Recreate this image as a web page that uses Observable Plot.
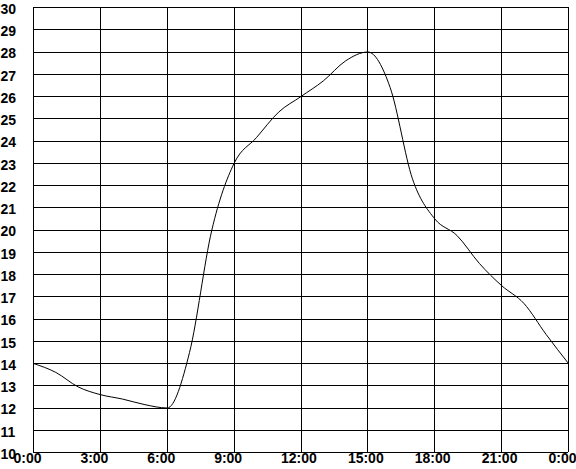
<!DOCTYPE html>
<html>
<head>
<meta charset="utf-8">
<script src="https://cdn.jsdelivr.net/npm/d3@7"></script>
<script src="https://cdn.jsdelivr.net/npm/@observablehq/plot@0.6"></script>
<style>
  html, body { margin: 0; padding: 0; background: #fff; }
</style>
</head>
<body>
<div id="chart"></div>
<script>
const hours = [0, 1, 2, 3, 4, 5, 6, 7, 8, 9, 10, 11, 12, 13, 14, 15, 16, 17, 18, 19, 20, 21, 22, 23, 24];
const temps = [14.0, 13.6, 12.95, 12.6, 12.4, 12.15, 12.0, 14.5, 20.0, 23.0, 24.15, 25.3, 26.0, 26.7, 27.6, 28.0, 26.4, 22.3, 20.5, 19.75, 18.5, 17.5, 16.7, 15.3, 14.0];
const xTicks = [0, 3, 6, 9, 12, 15, 18, 21, 24];
const xLabels = ["0:00", "3:00", "6:00", "9:00", "12:00", "15:00", "18:00", "21:00", "0:00"];
const yTicks = [10, 11, 12, 13, 14, 15, 16, 17, 18, 19, 20, 21, 22, 23, 24, 25, 26, 27, 28, 29, 30];

const data = hours.map((h, i) => ({hour: h, temp: temps[i]}));

const chart = Plot.plot({
  width: 576,
  height: 469,
  marginLeft: 33,
  marginRight: 8,
  marginTop: 7,
  marginBottom: 17,
  style: {fontFamily: "'Liberation Sans', Arial, sans-serif", fontSize: "14px", fontWeight: "bold", color: "black", background: "white"},
  x: {domain: [0, 24]},
  y: {domain: [10, 30]},
  marks: [
    Plot.ruleY(yTicks, {stroke: "black", strokeWidth: 1, shapeRendering: "crispEdges"}),
    Plot.ruleX(xTicks, {stroke: "black", strokeWidth: 1, shapeRendering: "crispEdges"}),
    Plot.axisX(xTicks, {tickSize: 0, tickPadding: 1, tickFormat: (d, i) => xLabels[i], textAnchor: "start", dx: -20, label: null}),
    Plot.axisY(yTicks, {tickSize: 0, tickPadding: 0, textAnchor: "start", dx: -33, dy: 2, label: null}),
    Plot.line(data, {x: "hour", y: "temp", curve: "monotone-x", stroke: "black", strokeWidth: 1})
  ]
});
document.getElementById("chart").appendChild(chart);
</script>
</body>
</html>
